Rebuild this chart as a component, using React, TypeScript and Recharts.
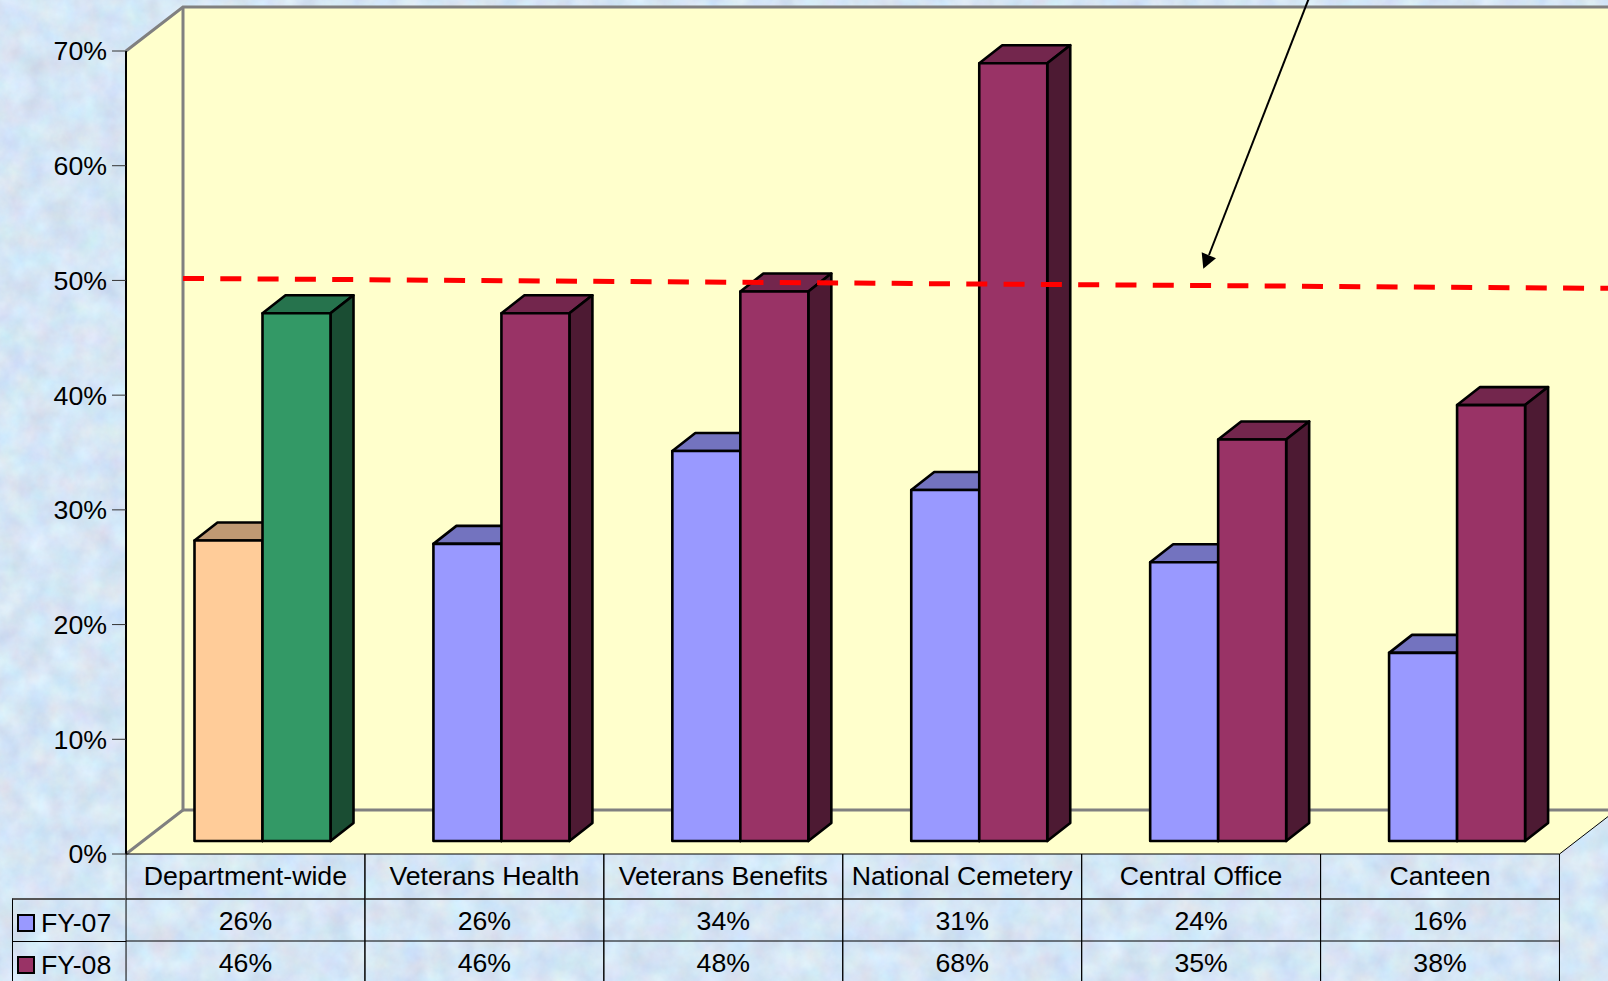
import React from "react";
import {
  BarChart,
  Bar,
  XAxis,
  YAxis,
  CartesianGrid,
  ReferenceArea,
  ReferenceLine,
  Legend,
} from "recharts";

const categories = ["Department-wide", "Veterans Health", "Veterans Benefits", "National Cemetery", "Central Office", "Canteen"];
const fy07 = [26.2, 25.9, 34, 30.6, 24.3, 16.4];
const fy08 = [46, 46, 47.9, 67.8, 35, 38];
const yTicks = [0, 10, 20, 30, 40, 50, 60, 70];
const fy07Fills = ["#FFCC99", "#9999FF", "#9999FF", "#9999FF", "#9999FF", "#9999FF"];
const fy08Fills = ["#339966", "#993366", "#993366", "#993366", "#993366", "#993366"];
const TARGET = 50;

const rows = categories.map((category, i) => ({ category, fy07: fy07[i], fy08: fy08[i] }));

const FONT = "'Liberation Sans', Arial, sans-serif";
const FONT_SIZE = 26.7;
const WALL_DX = 57;
const WALL_DY = 44;
const BAR_SHIFT_X = 17.5;
const BAR_SHIFT_Y = 13;
const BAR_DX = 23;
const BAR_DY = 18;

function shade(hex: string, k: number) {
  const n = parseInt(hex.slice(1), 16);
  const c = [(n >> 16) & 255, (n >> 8) & 255, n & 255].map((v) => Math.round(v * k));
  return `rgb(${c[0]},${c[1]},${c[2]})`;
}

function makeBar(fills: string[]) {
  return function Bar3D(props: any) {
    const { x, y, width, height, index } = props;
    const fill = fills[index];
    const l = x + BAR_SHIFT_X;
    const t = y - BAR_SHIFT_Y;
    const r = l + width;
    const b = t + height;
    const stroke = { stroke: "#000", strokeWidth: 2.6, strokeLinejoin: "round" as const };
    return (
      <g>
        <polygon points={`${l},${t} ${l + BAR_DX},${t - BAR_DY} ${r + BAR_DX},${t - BAR_DY} ${r},${t}`} fill={shade(fill, 0.75)} {...stroke} />
        <polygon points={`${r},${t} ${r + BAR_DX},${t - BAR_DY} ${r + BAR_DX},${b - BAR_DY} ${r},${b}`} fill={shade(fill, 0.5)} {...stroke} />
        <rect x={l} y={t} width={width} height={height} fill={fill} {...stroke} />
      </g>
    );
  };
}

function Walls(props: any) {
  const { x, y, width, height } = props;
  const r = x + width;
  const b = y + height;
  const bx = x + WALL_DX;
  const grey = { stroke: "#808080", strokeWidth: 3, fill: "none" };
  return (
    <g>
      <polygon points={`${x},${y} ${bx},${y - WALL_DY} ${bx},${b - WALL_DY} ${x},${b}`} fill="#FFFFCC" />
      <polygon points={`${bx},${y - WALL_DY} ${r + WALL_DX},${y - WALL_DY} ${r + WALL_DX},${b - WALL_DY} ${bx},${b - WALL_DY}`} fill="#FFFFCC" />
      <polygon points={`${x},${b} ${bx},${b - WALL_DY} ${r + WALL_DX},${b - WALL_DY} ${r},${b}`} fill="#FFFFCC" />
      <polyline points={`${x},${y} ${bx},${y - WALL_DY} ${r + WALL_DX},${y - WALL_DY}`} {...grey} />
      <polyline points={`${x},${b} ${bx},${b - WALL_DY} ${bx},${y - WALL_DY}`} {...grey} />
      <line x1={bx} y1={b - WALL_DY} x2={r + WALL_DX} y2={b - WALL_DY} {...grey} />
      <line x1={r} y1={b} x2={r + WALL_DX} y2={b - WALL_DY} stroke="#000" strokeWidth={1} />
    </g>
  );
}

function GridLine(props: any) {
  const { x1, x2, y1, index } = props;
  if (y1 < 60 || y1 > 840) return <g key={index} />;
  return (
    <g key={`${y1}`}>
      <line x1={x1} y1={y1} x2={x1 + WALL_DX} y2={y1 - WALL_DY} stroke="#000" strokeWidth={1} />
      <line x1={x1 + WALL_DX} y1={y1 - WALL_DY} x2={x2 + WALL_DX} y2={y1 - WALL_DY} stroke="#000" strokeWidth={1} />
    </g>
  );
}

function Annotations(props: any) {
  const { x1, x2, y1 } = props;
  const sx = x1 + WALL_DX;
  const ex = x2 + WALL_DX;
  return (
    <g>
      <line x1={sx} y1={y1 - 2} x2={ex} y2={y1 + 8} stroke="#FF0000" strokeWidth={5} strokeDasharray="21 16.3" />
      <line x1={1309} y1={-2} x2={1209} y2={255} stroke="#000" strokeWidth={2} />
      <polygon points="1201.7,252.3 1216,258.3 1203.3,268.7" fill="#000" />
    </g>
  );
}

function TableTick(props: any) {
  const { x, y, payload, index } = props;
  const half = 119.42;
  const text = { fontFamily: FONT, fontSize: FONT_SIZE, fill: "#000", textAnchor: "middle" as const };
  const i = payload.index ?? index;
  return (
    <g>
      <line x1={x - half} y1={y + 45} x2={x + half} y2={y + 45} stroke="#555" strokeWidth={2} />
      <line x1={x - half} y1={y + 87} x2={x + half} y2={y + 87} stroke="#000" strokeWidth={1} />
      <line x1={x - half} y1={y} x2={x - half} y2={981} stroke="#000" strokeWidth={1} />
      <line x1={x + half} y1={y} x2={x + half} y2={981} stroke="#000" strokeWidth={1} />
      <text x={x} y={y + 31} {...text}>{payload.value}</text>
      <text x={x} y={y + 76} {...text}>{Math.round(fy07[i])}%</text>
      <text x={x} y={y + 118} {...text}>{Math.round(fy08[i])}%</text>
    </g>
  );
}

function TableLegend(props: any) {
  const entries = props.payload ?? [];
  return (
    <div style={{ width: 114, height: 83, position: "relative", fontFamily: FONT, fontSize: FONT_SIZE, color: "#000" }}>
      {entries.map((e: any, i: number) => (
        <div key={e.value} style={{ position: "absolute", left: 0, top: i === 0 ? 0 : 43, width: 114, height: i === 0 ? 43 : 40, boxSizing: "border-box", borderLeft: "1px solid #000", borderTop: i === 0 ? "2px solid #555" : "1px solid #000" }}>
          <span style={{ position: "absolute", left: 4, top: 14, width: 18, height: 18, boxSizing: "border-box", border: "2px solid #000", background: e.color }} />
          <span style={{ position: "absolute", left: 28, top: 8, lineHeight: "30px", whiteSpace: "nowrap" }}>{e.value}</span>
        </div>
      ))}
    </div>
  );
}

export default function App() {
  return (
    <div style={{ position: "absolute", left: 0, top: 0, width: 1608, height: 981, overflow: "hidden", background: "#D6E6F6" }}>
      <style>{"html,body{margin:0;padding:0;overflow:hidden}"}</style>
      <svg width={1608} height={981} style={{ position: "absolute", left: 0, top: 0 }}>
        <filter id="paper" x="0" y="0" width="100%" height="100%" colorInterpolationFilters="sRGB">
          <feTurbulence type="fractalNoise" baseFrequency="0.04" numOctaves={5} seed={7} />
          <feColorMatrix values="0.14 0.04 0 0 0.745  0.04 0.12 0.04 0 0.80  0 0.04 0.10 0 0.89  0 0 0 0 1" />
        </filter>
        <rect width={1608} height={981} filter="url(#paper)" />
      </svg>
      <div style={{ position: "absolute", left: 0, top: 0 }}>
        <BarChart
          width={1608}
          height={981}
          data={rows}
          barSize={68}
          barGap={0}
          margin={{ top: 51, right: 48.5, bottom: 0, left: 0 }}
          style={{ overflow: "hidden" }}
        >
          <ReferenceArea y1={0} y2={70} shape={Walls} ifOverflow="visible" />
          <CartesianGrid horizontal={GridLine as any} vertical={false} />
          <XAxis
            dataKey="category"
            interval={0}
            height={44}
            tickLine={false}
            tickSize={0}
            tickMargin={0}
            axisLine={{ stroke: "#000", strokeWidth: 1 }}
            tick={TableTick as any}
          />
          <YAxis
            width={126}
            domain={[0, 70]}
            ticks={yTicks}
            interval={0}
            tickSize={14}
            tickMargin={5}
            tickFormatter={(v: number) => `${v}%`}
            tick={{ fontSize: FONT_SIZE, fill: "#000", fontFamily: FONT }}
            tickLine={{ stroke: "#333", strokeWidth: 1 }}
            axisLine={{ stroke: "#000", strokeWidth: 2 }}
          />
          <Bar dataKey="fy07" name="FY-07" fill="#9999FF" isAnimationActive={false} shape={makeBar(fy07Fills)} />
          <Bar dataKey="fy08" name="FY-08" fill="#993366" isAnimationActive={false} shape={makeBar(fy08Fills)} />
          <ReferenceLine y={TARGET} shape={Annotations} ifOverflow="visible" />
          <Legend
            layout="horizontal"
            verticalAlign="bottom"
            align="left"
            height={83}
            width={114}
            content={TableLegend as any}
            wrapperStyle={{ position: "absolute", left: 12, top: 898, width: 114, height: 83 }}
          />
        </BarChart>
      </div>
    </div>
  );
}
